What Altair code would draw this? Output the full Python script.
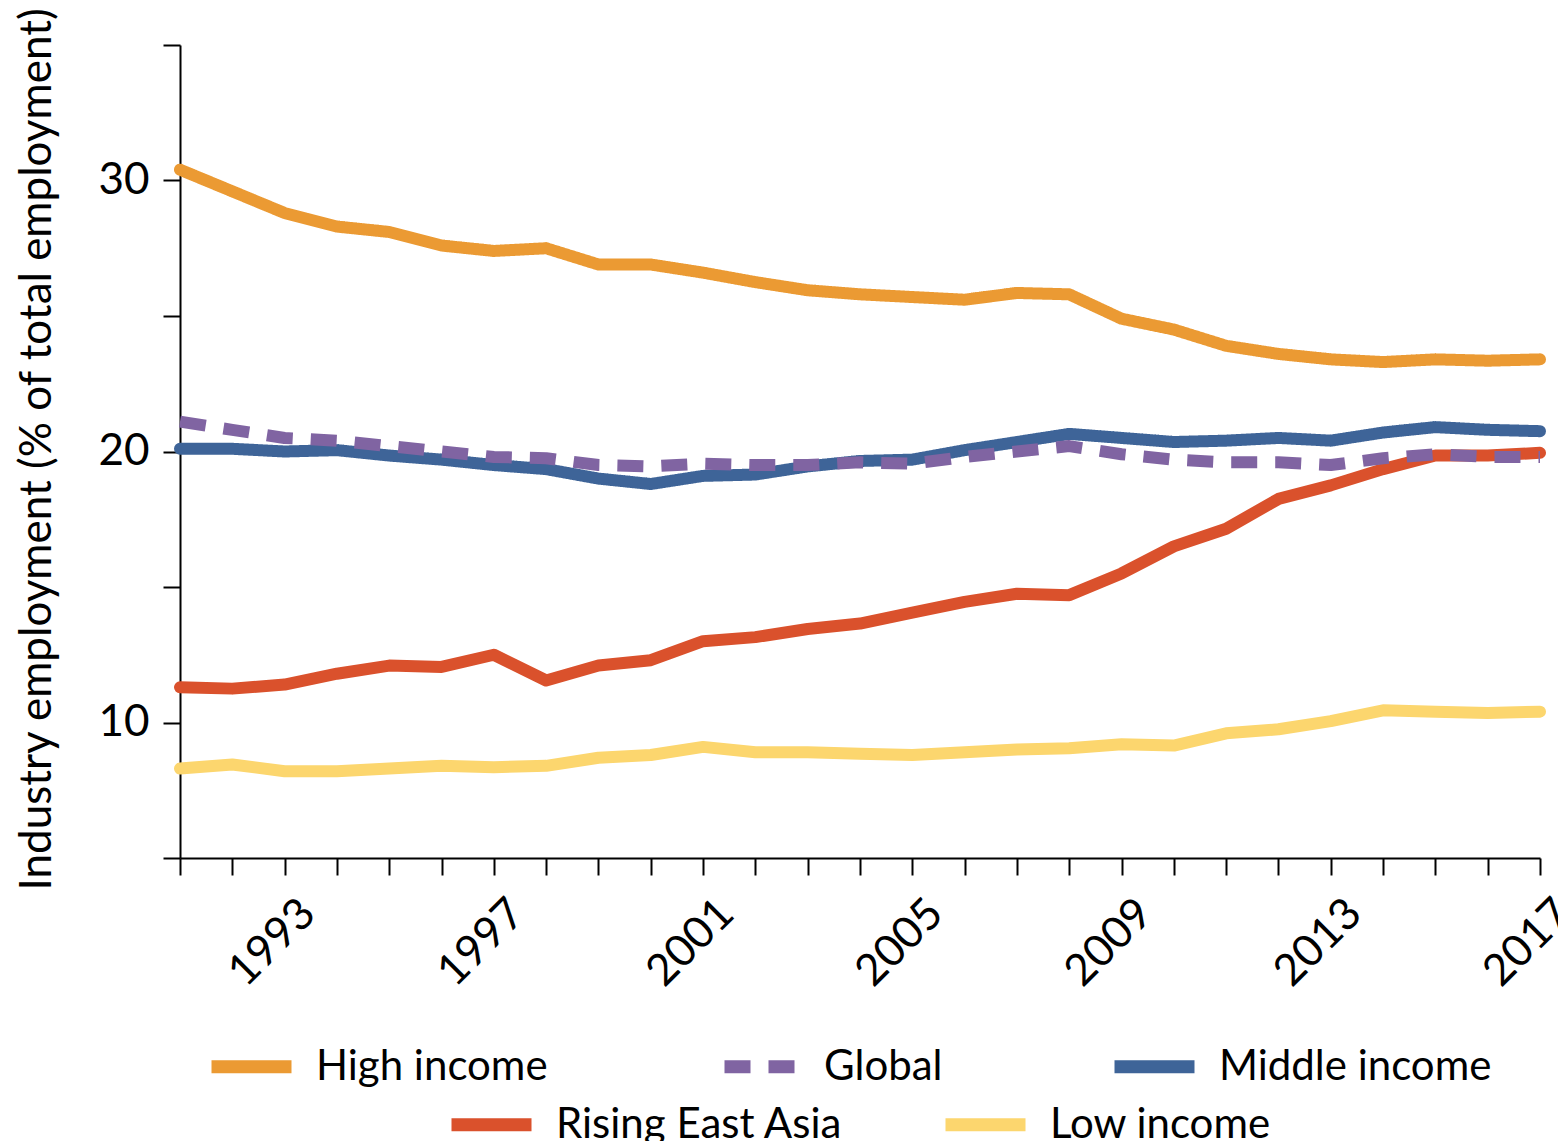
import altair as alt
import pandas as pd

years = list(range(1991, 2018))

high_income = [30.4, 29.6, 28.8, 28.3, 28.1, 27.6, 27.4, 27.5, 26.9, 26.9, 26.6, 26.25, 25.95,
               25.8, 25.7, 25.6, 25.85, 25.8, 24.9, 24.5, 23.9, 23.6, 23.4, 23.3, 23.4, 23.35, 23.4]
global_ = [21.1, 20.8, 20.5, 20.4, 20.2, 20.0, 19.8, 19.75, 19.5, 19.45, 19.55, 19.5, 19.5,
           19.6, 19.55, 19.8, 20.0, 20.2, 19.9, 19.7, 19.6, 19.6, 19.5, 19.75, 19.9, 19.8, 19.8]
middle_income = [20.1, 20.1, 20.0, 20.05, 19.85, 19.7, 19.5, 19.35, 19.0, 18.8, 19.1, 19.15, 19.45,
                 19.65, 19.7, 20.05, 20.35, 20.65, 20.5, 20.35, 20.4, 20.5, 20.4, 20.7, 20.9, 20.8, 20.75]
rising_east_asia = [11.3, 11.25, 11.4, 11.8, 12.1, 12.05, 12.5, 11.55, 12.1, 12.3, 13.0, 13.15, 13.45,
                    13.65, 14.05, 14.45, 14.75, 14.7, 15.5, 16.5, 17.15, 18.25, 18.75, 19.35, 19.85, 19.85, 19.95]
low_income = [8.3, 8.45, 8.2, 8.2, 8.3, 8.4, 8.35, 8.4, 8.7, 8.8, 9.1, 8.9, 8.9,
              8.85, 8.8, 8.9, 9.0, 9.05, 9.2, 9.15, 9.6, 9.75, 10.05, 10.45, 10.4, 10.35, 10.4]

group1 = ["High income", "Global", "Middle income"]
group1_colors = ["#EB9A33", "#8064A2", "#3E6498"]
group1_dashes = [[1, 0], [26, 18], [1, 0]]
group2 = ["Rising East Asia", "Low income"]
group2_colors = ["#DA512C", "#FCD66E"]

series = {
    "Rising East Asia": rising_east_asia,
    "Low income": low_income,
    "High income": high_income,
    "Middle income": middle_income,
    "Global": global_,
}
rows = []
for name, vals in series.items():
    for y, v in zip(years, vals):
        rows.append({"year": y, "value": v, "series": name})
df = pd.DataFrame(rows)

FONT = "Lato"

x_enc = alt.X("year:Q",
              scale=alt.Scale(domain=[1991, 2017], nice=False, zero=False),
              axis=alt.Axis(values=years, labelExpr="(datum.value - 1993) % 4 == 0 ? datum.label : ''",
                            format="d", title=None, labelAngle=-45, labelAlign="right",
                            labelBaseline="top", labelPadding=16, labelOffset=8, tickSize=17,
                            grid=False))
y_enc = alt.Y("value:Q",
              scale=alt.Scale(domain=[5, 35], nice=False, zero=False),
              axis=alt.Axis(values=[5, 10, 15, 20, 25, 30, 35],
                            labelExpr="datum.value % 10 == 0 ? datum.label : ''",
                            title="Industry employment (% of total employment)",
                            titleAngle=-90, titleAlign="left", titleBaseline="bottom",
                            titleX=-121, titleY=845, titleFontSize=44, titleFontWeight="normal",
                            tickSize=17, labelPadding=14, grid=False))

legend_common = dict(title=None, orient="none", direction="horizontal",
                     symbolType="stroke", symbolSize=6400, symbolStrokeWidth=13,
                     symbolDashOffset=-5,
                     labelFontSize=42, labelOffset=18, padding=0, labelLimit=1000,
                     labelFont=FONT, labelColor="black")
leg1 = alt.Legend(legendX=25, legendY=975, columns=3, columnPadding=145, **legend_common)
leg2 = alt.Legend(legendX=265, legendY=1033, columns=2, columnPadding=76, **legend_common)

color1 = alt.Color("series:N", scale=alt.Scale(domain=group1, range=group1_colors), legend=leg1)
dash1 = alt.StrokeDash("series:N", scale=alt.Scale(domain=group1, range=group1_dashes), legend=leg1)

base = alt.Chart(df)

layer_low = base.transform_filter(
    alt.FieldOneOfPredicate(field="series", oneOf=group2)
).mark_line(strokeWidth=12, strokeCap="round", strokeJoin="round").encode(
    x=x_enc, y=y_enc,
    stroke=alt.Stroke("series:N", scale=alt.Scale(domain=group2, range=group2_colors), legend=leg2),
)

layer_solid = base.transform_filter(
    alt.FieldOneOfPredicate(field="series", oneOf=["High income", "Middle income"])
).mark_line(strokeWidth=12, strokeCap="round", strokeJoin="round").encode(
    x=x_enc, y=y_enc, color=color1, strokeDash=dash1,
)

layer_global = base.transform_filter(
    alt.FieldOneOfPredicate(field="series", oneOf=["Global"])
).mark_line(strokeWidth=12, strokeCap="butt", strokeJoin="round").encode(
    x=x_enc, y=y_enc, color=color1, strokeDash=dash1,
)

chart = alt.layer(layer_low, layer_solid, layer_global).properties(
    width=1360, height=813,
    autosize=alt.AutoSizeParams(type="none"),
    padding={"left": 172, "top": 37, "right": 18, "bottom": 283},
    background="white",
).configure_view(stroke=None).configure_axis(
    domainColor="black", domainWidth=2, tickColor="black", tickWidth=2,
    labelFont=FONT, titleFont=FONT, labelFontSize=44, labelColor="black", titleColor="black",
    grid=False,
)

chart.save("out.html", embed_options={"renderer": "svg", "actions": False})
